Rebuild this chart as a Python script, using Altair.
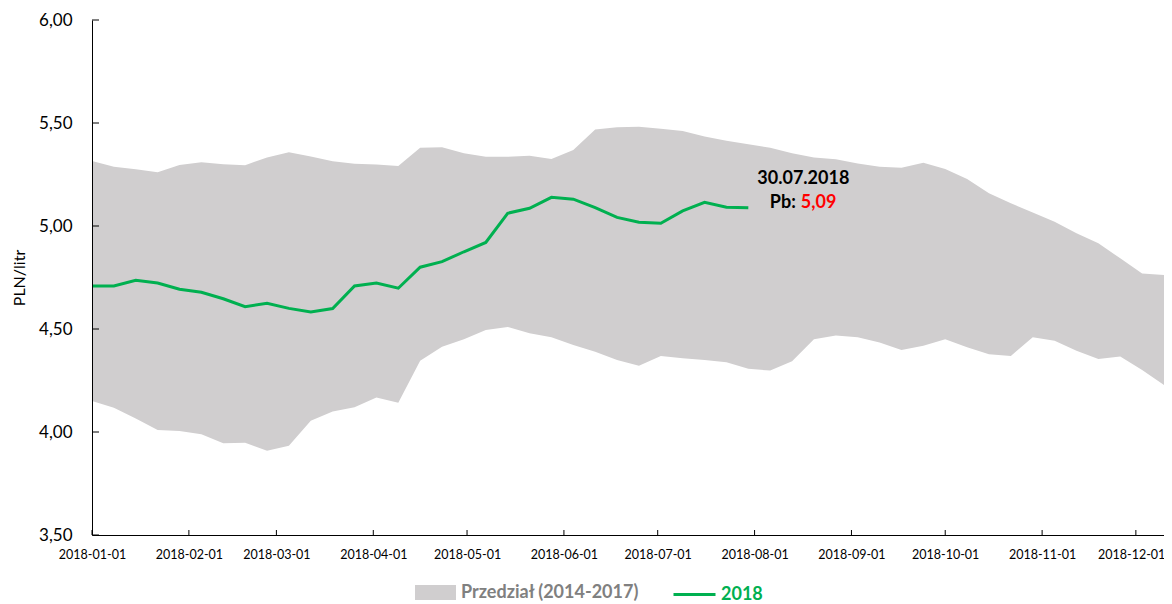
import altair as alt
import pandas as pd

# ---------------- data ----------------
start_date = "2018-01-01"
band_label = "Przedział (2014-2017)"
line_label = "2018"

band_upper = [5.316, 5.288, 5.275, 5.261, 5.296, 5.309, 5.300, 5.295, 5.333, 5.358,
              5.337, 5.314, 5.302, 5.298, 5.291, 5.380, 5.382, 5.353, 5.336, 5.336,
              5.341, 5.325, 5.369, 5.469, 5.479, 5.482, 5.472, 5.461, 5.434, 5.414,
              5.397, 5.380, 5.353, 5.333, 5.324, 5.304, 5.288, 5.283, 5.307, 5.277,
              5.228, 5.159, 5.110, 5.065, 5.021, 4.965, 4.916, 4.843, 4.770, 4.762]
band_lower = [4.150, 4.118, 4.066, 4.010, 4.005, 3.989, 3.945, 3.948, 3.909, 3.933,
              4.055, 4.099, 4.120, 4.167, 4.142, 4.346, 4.414, 4.450, 4.495, 4.510,
              4.479, 4.460, 4.422, 4.390, 4.350, 4.322, 4.369, 4.358, 4.350, 4.338,
              4.307, 4.298, 4.343, 4.450, 4.468, 4.460, 4.434, 4.398, 4.419, 4.450,
              4.411, 4.377, 4.369, 4.460, 4.443, 4.395, 4.354, 4.366, 4.301, 4.228]
pb_2018 = [4.709, 4.709, 4.736, 4.723, 4.693, 4.678, 4.647, 4.608, 4.625, 4.600,
           4.583, 4.599, 4.709, 4.723, 4.698, 4.800, 4.827, 4.875, 4.920, 5.062,
           5.086, 5.139, 5.130, 5.089, 5.042, 5.018, 5.013, 5.073, 5.115, 5.091,
           5.088]

month_ticks = ["2018-01-01", "2018-02-01", "2018-03-01", "2018-04-01", "2018-05-01",
               "2018-06-01", "2018-07-01", "2018-08-01", "2018-09-01", "2018-10-01",
               "2018-11-01", "2018-12-01"]
y_ticks = [3.5, 4.0, 4.5, 5.0, 5.5, 6.0]

# ---------------- tables ----------------
band_dates = pd.date_range(start_date, periods=len(band_upper), freq="7D")
band_df = pd.DataFrame({
    "date": band_dates.strftime("%Y-%m-%d"),
    "upper": band_upper,
    "lower": band_lower,
    "series": band_label,
})
line_dates = pd.date_range(start_date, periods=len(pb_2018), freq="7D")
line_df = pd.DataFrame({
    "date": line_dates.strftime("%Y-%m-%d"),
    "value": pb_2018,
    "series": line_label,
})
ann_df = pd.DataFrame({
    "date": [line_dates[-1].strftime("%Y-%m-%d")],
    "value": [pb_2018[-1]],
    "date_label": [line_dates[-1].strftime("%d.%m.%Y")],
    "value_label": [f"{pb_2018[-1]:.2f}".replace(".", ",")],
})
xtick_df = pd.DataFrame({"date": month_ticks})
ytick_df = pd.DataFrame({"v": y_ticks})

W, H = 1072, 515
LEFT = 84
FONT = "Lato"

x_scale = alt.Scale(type="utc", domain=[start_date, band_df["date"].iloc[-1]], nice=False)
y_scale = alt.Scale(domain=[3.5, 6.0], nice=False, zero=False)

last_tick_test = "utcmonth(datum.value) == 11"
x_axis = alt.Axis(
    values=[alt.DateTime(year=2018, month=m, date=1, utc=True) for m in range(1, 13)],
    format="%Y-%m-%d", labelAngle=0, tickSize=0, labelPadding=13,
    labelFont=FONT, labelFontSize=12.5, labelColor="#000000",
    labelAlign={"condition": {"test": last_tick_test, "value": "right"}, "value": "center"},
    labelOffset={"condition": {"test": last_tick_test, "value": 29}, "value": 0},
    domainColor="#000000", domainWidth=1, grid=False, title=None, zindex=1,
    labelOverlap=False, labelFlush=False,
)
y_axis = alt.Axis(
    values=y_ticks, labelExpr="replace(format(datum.value, '.2f'), '.', ',')",
    tickSize=0, labelPadding=20, labelFont=FONT, labelFontSize=17, labelColor="#000000",
    domainColor="#000000", domainWidth=1, grid=False, zindex=1,
    title="PLN/litr", titleFont=FONT, titleFontSize=16, titleFontWeight="normal",
    titleColor="#000000", titleAngle=270, titleX=-73, titleY=H / 2,
    titleAlign="center", titleBaseline="middle",
)

band = alt.Chart(band_df).mark_area(opacity=1, interpolate="linear").encode(
    x=alt.X("date:T", scale=x_scale, axis=x_axis),
    y=alt.Y("lower:Q", scale=y_scale, axis=y_axis),
    y2="upper:Q",
    fill=alt.Fill("series:N",
                  scale=alt.Scale(domain=[band_label], range=["#d0cecf"]),
                  legend=alt.Legend(
                      orient="none", legendX=323, legendY=552, direction="horizontal",
                      title=None, padding=0,
                      symbolType="M-1,-0.36L1,-0.36L1,0.36L-1,0.36Z", symbolSize=1681,
                      symbolOpacity=1, symbolStrokeWidth=0,
                      labelFont=FONT, labelFontSize=18, labelFontWeight="bold",
                      labelColor="#808080", labelOffset=5, labelLimit=400,
                  )),
)

line = alt.Chart(line_df).mark_line(strokeWidth=3, interpolate="linear").encode(
    x=alt.X("date:T", scale=x_scale),
    y=alt.Y("value:Q", scale=y_scale),
    stroke=alt.Stroke("series:N",
                      scale=alt.Scale(domain=[line_label], range=["#00b050"]),
                      legend=alt.Legend(
                          orient="none", legendX=580, legendY=552, direction="horizontal",
                          title=None, padding=0,
                          symbolType="M-1,0L1,0", symbolSize=1764, symbolStrokeWidth=3,
                          labelFont=FONT, labelFontSize=18, labelFontWeight="bold",
                          labelColor="#00b050", labelOffset=4, labelLimit=400,
                      )),
)

xticks = alt.Chart(xtick_df).mark_rule(color="#000000", strokeWidth=1).encode(
    x=alt.X("date:T", scale=x_scale),
    y=alt.value(H - 5), y2=alt.value(H),
)
yticks = alt.Chart(ytick_df).mark_rule(color="#000000", strokeWidth=1).encode(
    y=alt.Y("v:Q", scale=y_scale),
    x=alt.value(0), x2=alt.value(7),
)

base_ann = alt.Chart(ann_df).encode(
    x=alt.X("date:T", scale=x_scale),
    y=alt.Y("value:Q", scale=y_scale),
)
ann_date = base_ann.mark_text(font=FONT, fontSize=18, fontWeight="bold", color="#000000",
                              align="center", baseline="middle", dx=55, dy=-28.5
                              ).encode(text="date_label:N")
ann_pb = base_ann.mark_text(font=FONT, fontSize=18, fontWeight="bold", color="#000000",
                            align="right", baseline="middle", dx=47.5, dy=-4.5
                            ).encode(text=alt.value("Pb:"))
ann_val = base_ann.mark_text(font=FONT, fontSize=18, fontWeight="bold", color="#ff0000",
                             align="left", baseline="middle", dx=52.5, dy=-4.5
                             ).encode(text="value_label:N")

chart = alt.layer(band, line, xticks, yticks, ann_date, ann_pb, ann_val).resolve_scale(
    color="independent"
).properties(
    width=W, height=H,
    autosize=alt.AutoSizeParams(type="none"),
    padding={"left": LEFT, "top": 12, "right": 0, "bottom": 69},
    background="#ffffff",
).configure_view(stroke=None)

chart.save("out.html", embed_options={"renderer": "svg", "actions": False})
